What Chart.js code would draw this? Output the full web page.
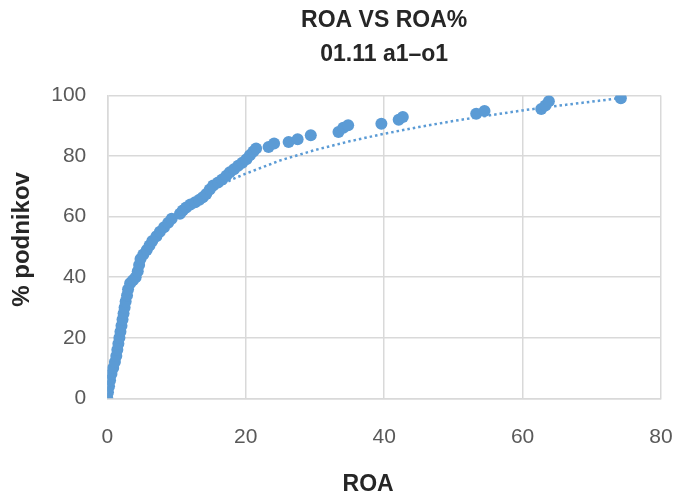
<!DOCTYPE html>
<html>
<head>
<meta charset="utf-8">
<title>ROA VS ROA%</title>
<script src="https://cdn.jsdelivr.net/npm/chart.js@4.4.1/dist/chart.umd.min.js"></script>
<style>
    html, body { margin: 0; padding: 0; background: #ffffff; }
    #wrap { width: 675px; height: 492px; }
</style>
</head>
<body>
<div id="wrap"><canvas id="roaChart" width="675" height="492"></canvas></div>
<script>
// ROA (x) vs cumulative % of companies (y)
const roaValues = [
    0, 0.1, 0.25, 0.4, 0.6, 0.85, 1.1, 1.3, 1.45, 1.6,
    1.75, 1.9, 2.05, 2.2, 2.35, 2.5, 2.65, 2.85, 3.0, 3.3,
    3.7, 4.1, 4.4, 4.6, 4.8, 5.2, 5.7, 6.1, 6.5, 7.1,
    7.6, 8.2, 8.8, 9.3, 10.5, 10.9, 11.4, 12.0, 12.7, 13.3,
    13.8, 14.3, 14.8, 15.3, 16.0, 16.6, 17.2, 17.7, 18.3, 18.9,
    19.5, 20.1, 20.6, 21.1, 21.5, 23.3, 24.1, 26.2, 27.5, 29.4,
    33.4, 34.1, 34.8, 39.6, 42.1, 42.7, 53.3, 54.5, 62.7, 63.3,
    63.8, 74.2
];
const pctValues = [
    0, 2, 4, 6, 8, 10, 12, 14, 16, 18,
    20, 22, 24, 26, 28, 30, 32, 34, 36, 38,
    39, 40, 42, 44, 46, 47.5, 49, 50.5, 52, 53.5,
    55, 56.5, 58, 59.3, 61, 62, 63, 64, 64.8, 65.6,
    66.4, 67.5, 69, 70.3, 71.3, 72.3, 73.5, 74.7, 75.7, 76.8,
    77.8, 79, 80.3, 81.5, 82.5, 83, 84.2, 84.7, 85.6, 86.9,
    88.0, 89.4, 90.2, 90.7, 92.0, 92.9, 94.0, 94.9, 95.6, 96.7,
    98.1, 99.1
];

// dotted trendline, points
const trendX = [14, 18, 20, 25, 30, 35, 40, 45, 50, 55, 60, 65, 70, 74.2];
const trendY = [67.3, 72.3, 74.2, 78.6, 82.0, 84.9, 87.4, 89.6, 91.6, 93.4, 95.1, 96.6, 98.0, 99.2];

const xTicks = [0, 20, 40, 60, 80];
const yTicks = [0, 20, 40, 60, 80, 100];

const chartTitle = ['ROA VS ROA%', '01.11 a1\u2013o1'];
const xTitle = 'ROA';
const yTitle = '% podnikov';

const blue = '#5B9BD5';
const gridColor = '#d9d9d9';
const titleColor = '#262626';
const fontFamily = "'Liberation Sans', Arial, sans-serif";

Chart.defaults.font.family = fontFamily;

const scatterData = roaValues.map((x, i) => ({ x: x, y: pctValues[i] }));
const trendData = trendX.map((x, i) => ({ x: x, y: trendY[i] }));

const tickFont = { family: fontFamily, size: 21 };

// axis titles sit a little off the plot centre in the original, so draw them here
const axisTitles = {
    id: 'axisTitles',
    afterDraw(chart) {
        const c = chart.ctx;
        const area = chart.chartArea;
        c.save();
        c.fillStyle = titleColor;
        c.textAlign = 'center';

        c.font = 'bold 23px ' + fontFamily;
        c.textBaseline = 'alphabetic';
        c.fillText(xTitle, (area.left + area.right) / 2 - 16, 490.5);

        c.font = 'bold 24px ' + fontFamily;
        c.textBaseline = 'middle';
        c.translate(22.4, (area.top + area.bottom) / 2 - 7.5);
        c.rotate(-Math.PI / 2);
        c.fillText(yTitle, 0, 0);
        c.restore();
    }
};

const ctx = document.getElementById('roaChart').getContext('2d');
new Chart(ctx, {
    type: 'scatter',
    data: {
        datasets: [{
            label: 'ROA',
            data: scatterData,
            order: 0,
            backgroundColor: blue,
            borderColor: blue,
            borderWidth: 0,
            pointRadius: 6
        }, {
            label: 'Trend',
            data: trendData,
            order: 1,
            showLine: true,
            pointRadius: 0,
            borderColor: blue,
            borderWidth: 2.5,
            borderDash: [2.5, 3],
            fill: false,
            tension: 0
        }]
    },
    options: {
        responsive: false,
        animation: false,
        layout: { padding: { top: 4, right: 14, bottom: 0, left: 0 } },
        plugins: {
            legend: { display: false },
            tooltip: { enabled: false },
            title: {
                display: true,
                text: chartTitle,
                fullSize: false,
                color: titleColor,
                font: { size: 23, weight: 'bold', lineHeight: 1.48 },
                padding: { top: 0, bottom: 23.5 }
            }
        },
        scales: {
            x: {
                type: 'linear',
                min: 0,
                max: 80,
                afterBuildTicks: (scale) => { scale.ticks = xTicks.map(v => ({ value: v })); },
                afterFit: (scale) => {
                    scale.height = 93.7;
                    scale.paddingLeft = 0;
                    scale.paddingRight = 0;
                },
                grid: { color: gridColor, lineWidth: 1.5, drawTicks: false },
                border: { color: gridColor, width: 1.5 },
                ticks: { color: '#595959', padding: 26, font: tickFont }
            },
            y: {
                type: 'linear',
                min: 0,
                max: 100,
                afterBuildTicks: (scale) => { scale.ticks = yTicks.map(v => ({ value: v })); },
                afterFit: (scale) => {
                    scale.width = 107.3;
                    scale.paddingTop = 0;
                    scale.paddingBottom = 0;
                },
                grid: { color: gridColor, lineWidth: 1.5, drawTicks: false },
                border: { color: gridColor, width: 1.5 },
                ticks: { color: '#595959', padding: 21, font: tickFont }
            }
        }
    },
    plugins: [axisTitles]
});
</script>
</body>
</html>
